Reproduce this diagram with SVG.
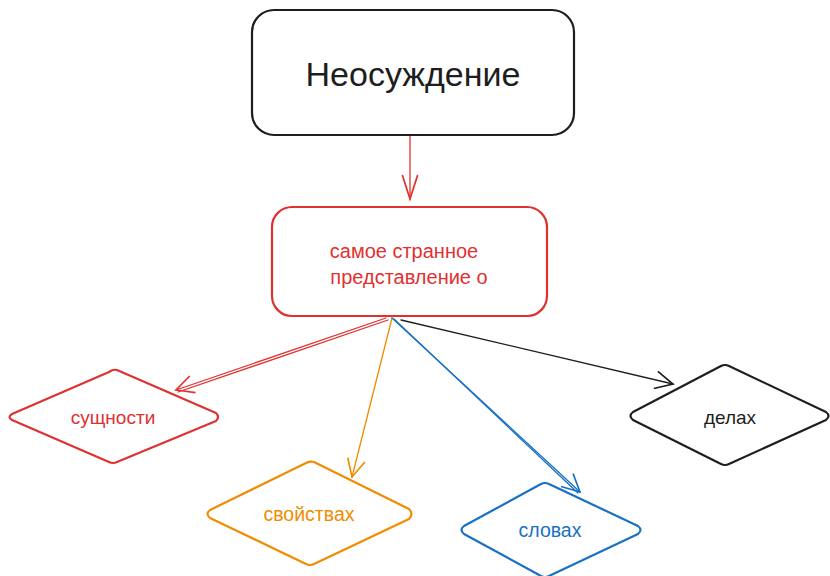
<svg xmlns="http://www.w3.org/2000/svg" width="830" height="576" viewBox="0 0 830 576">
<defs>
<style>
.t{font-family:"Liberation Sans",Arial,sans-serif;text-anchor:middle;dominant-baseline:central}
.n{fill:#fff;stroke-width:2.2;stroke-linejoin:round}
.c{fill:none;stroke-width:1.3;stroke-linecap:round}
</style>
<marker id="ar" viewBox="0 0 20 20" refX="18" refY="10" markerWidth="22" markerHeight="22" markerUnits="userSpaceOnUse" orient="auto"><path d="M2,2 L18,10 L2,18" fill="none" stroke="#e03131" stroke-width="1.5"/></marker>
<marker id="ar2" viewBox="0 0 20 20" refX="18" refY="10" markerWidth="30" markerHeight="22" markerUnits="userSpaceOnUse" orient="auto" preserveAspectRatio="none"><path d="M2,3 L18,10 L2,17" fill="none" stroke="#e03131" stroke-width="1.5"/></marker>
<marker id="ao" viewBox="0 0 20 20" refX="18" refY="10" markerWidth="22" markerHeight="22" markerUnits="userSpaceOnUse" orient="auto"><path d="M2,2 L18,10 L2,18" fill="none" stroke="#f08c00" stroke-width="1.5"/></marker>
<marker id="ab" viewBox="0 0 20 20" refX="18" refY="10" markerWidth="22" markerHeight="22" markerUnits="userSpaceOnUse" orient="auto"><path d="M2,2 L18,10 L2,18" fill="none" stroke="#1971c2" stroke-width="1.5"/></marker>
<marker id="ak" viewBox="0 0 20 20" refX="18" refY="10" markerWidth="22" markerHeight="22" markerUnits="userSpaceOnUse" orient="auto"><path d="M2,2 L18,10 L2,18" fill="none" stroke="#1e1e1e" stroke-width="1.5"/></marker>
</defs>
<rect width="830" height="576" fill="#fff"/>
<g id="connectors">
<path class="c" d="M410,136 L410,199" stroke="#e03131" stroke-width="2" marker-end="url(#ar2)"/>
<path class="c" d="M386,318 L176,390" stroke="#e03131" marker-end="url(#ar)"/>
<path class="c" d="M388,320 L178,392" stroke="#e03131"/>
<path class="c" d="M392,318 L352,477" stroke="#f08c00" marker-end="url(#ao)"/>
<path class="c" d="M392,318 L580,492" stroke="#1971c2" marker-end="url(#ab)"/>
<path class="c" d="M394,319 L578,493" stroke="#1971c2"/>
<path class="c" d="M401,320 L673,384" stroke="#1e1e1e" marker-end="url(#ak)"/>
</g>
<g id="node-top">
<rect class="n" x="252" y="10" width="322" height="125" rx="22" stroke="#1e1e1e" stroke-width="2.6"/>
<text class="t" x="413" y="74" font-size="34" fill="#1e1e1e">Неосуждение</text>
</g>
<g id="node-main">
<rect class="n" x="272" y="207" width="275" height="109" rx="20" stroke="#e03131"/>
<text class="t" x="404" y="251" font-size="20" fill="#e03131">самое странное</text>
<text class="t" x="409" y="277" font-size="20" fill="#e03131">представление о</text>
</g>
<g id="node-sushch">
<path class="n" d="M117,370 L216,413 Q220,417 216,421 L117,462 Q113,464 109,462 L12,420 Q7,417 12,414 L109,372 Q113,369 117,370 Z" stroke="#e03131"/>
<text class="t" x="113" y="417" font-size="19" fill="#e03131">сущности</text>
</g>
<g id="node-svoistv">
<path class="n" d="M314,462 L409,509 Q414,514 409,519 L314,564 Q310,566 306,564 L210,518 Q205,514 210,510 L306,463 Q310,461 314,462 Z" stroke="#f08c00"/>
<text class="t" x="309" y="514" font-size="19.5" fill="#f08c00">свойствах</text>
</g>
<g id="node-slovakh">
<path class="n" d="M549,484 L638,526 Q643,530 638,534 L549,576 Q545,578 541,576 L464,534 Q459,530 464,526 L541,484 Q545,482 549,484 Z" stroke="#1971c2"/>
<text class="t" x="550" y="530" font-size="19.5" fill="#1971c2">словах</text>
</g>
<g id="node-delakh">
<path class="n" d="M729,366 L826,412 Q831,416 826,420 L729,464 Q725,466 721,464 L633,420 Q628,416 633,412 L721,366 Q725,364 729,366 Z" stroke="#1e1e1e"/>
<text class="t" x="730" y="417" font-size="19" fill="#1e1e1e">делах</text>
</g>
</svg>
